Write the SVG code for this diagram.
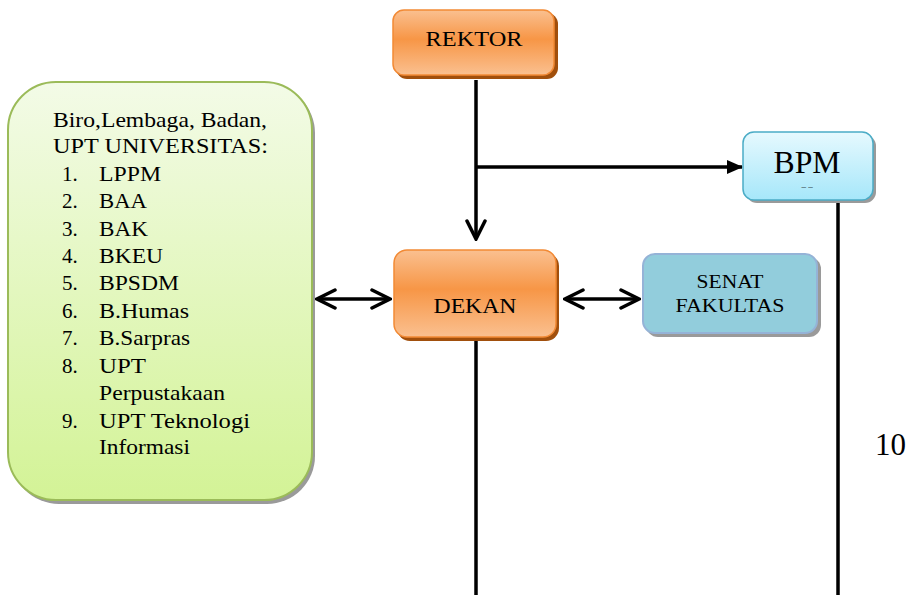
<svg xmlns="http://www.w3.org/2000/svg" width="914" height="595" viewBox="0 0 914 595">
<defs>
<linearGradient id="gOrange" x1="0" y1="0" x2="0" y2="1">
<stop offset="0" stop-color="#fac090"/>
<stop offset="0.45" stop-color="#f79646"/>
<stop offset="1" stop-color="#fac090"/>
</linearGradient>
<linearGradient id="gGreen" x1="0" y1="0" x2="0" y2="1">
<stop offset="0" stop-color="#f3fbe7"/>
<stop offset="1" stop-color="#d3f396"/>
</linearGradient>
<linearGradient id="gBlue" x1="0" y1="0" x2="0" y2="1">
<stop offset="0" stop-color="#e6f9fe"/>
<stop offset="1" stop-color="#a6e7fa"/>
</linearGradient>
<marker id="openBig" viewBox="0 0 22 22" refX="20" refY="11" markerWidth="22" markerHeight="22" markerUnits="userSpaceOnUse" orient="auto-start-reverse">
<path d="M2,2 L20,11 L2,20" fill="none" stroke="#000" stroke-width="3.5" stroke-linecap="round"/>
</marker>
<marker id="filled" viewBox="0 0 16 14" refX="15" refY="7" markerWidth="16" markerHeight="14" markerUnits="userSpaceOnUse" orient="auto">
<path d="M0,0 L16,7 L0,14 Z" fill="#000"/>
</marker>
</defs>
<style>
text{font-family:"Liberation Serif","Times New Roman",serif;fill:#000}
.orange{fill:url(#gOrange);stroke:#f28a35;stroke-width:1.5}
.oshadow{fill:#a14f0c}
.gshadow{fill:#9a9a9a}
.conn{stroke:#000;stroke-width:3.5;fill:none}
</style>
<g id="connectors">
<line class="conn" x1="476" y1="80" x2="476" y2="239" marker-end="url(#openBig)"/>
<line class="conn" x1="476" y1="167" x2="742" y2="167" marker-end="url(#filled)"/>
<line class="conn" x1="317" y1="299" x2="390" y2="299" marker-start="url(#openBig)" marker-end="url(#openBig)"/>
<line class="conn" x1="565" y1="299" x2="639" y2="299" marker-start="url(#openBig)" marker-end="url(#openBig)"/>
<line class="conn" x1="476" y1="340" x2="476" y2="595"/>
<line class="conn" x1="838" y1="200" x2="838" y2="595"/>
</g>
<g id="rektor">
<rect class="oshadow" x="396" y="13" width="162" height="66" rx="11"/>
<rect class="orange" x="393" y="10" width="161" height="65" rx="11"/>
<text x="474" y="46" font-size="21" text-anchor="middle" textLength="97" lengthAdjust="spacingAndGlyphs">REKTOR</text>
</g>
<g id="bpm">
<rect class="gshadow" x="746" y="135" width="130" height="68" rx="11"/>
<rect x="743" y="132" width="130" height="68" rx="11" fill="url(#gBlue)" stroke="#4bacc6" stroke-width="1.5"/>
<text x="807" y="173" font-size="31" text-anchor="middle" textLength="67" lengthAdjust="spacingAndGlyphs">BPM</text>
<text x="807" y="189" font-size="9" text-anchor="middle">– –</text>
</g>
<g id="dekan">
<rect class="oshadow" x="397" y="253" width="162" height="88" rx="13"/>
<rect class="orange" x="394" y="250" width="162" height="87" rx="13"/>
<text x="475" y="313" font-size="21" text-anchor="middle" textLength="83" lengthAdjust="spacingAndGlyphs">DEKAN</text>
</g>
<g id="senat">
<rect class="gshadow" x="646" y="257" width="175" height="80" rx="12"/>
<rect x="643" y="254" width="174" height="79" rx="12" fill="#92cddc" stroke="#95b3d7" stroke-width="2"/>
<text x="730" y="288" font-size="19" text-anchor="middle" textLength="67" lengthAdjust="spacingAndGlyphs">SENAT</text>
<text x="730" y="312" font-size="19" text-anchor="middle" textLength="109" lengthAdjust="spacingAndGlyphs">FAKULTAS</text>
</g>
<g id="biro" font-size="21">
<rect class="gshadow" x="11" y="85" width="304" height="419" rx="48"/>
<rect x="8" y="82" width="304" height="418" rx="48" fill="url(#gGreen)" stroke="#9bbb59" stroke-width="2"/>
<text x="53" y="127" textLength="214" lengthAdjust="spacingAndGlyphs">Biro,Lembaga, Badan,</text>
<text x="53" y="153" textLength="215" lengthAdjust="spacingAndGlyphs">UPT UNIVERSITAS:</text>
<text x="62" y="181">1.</text><text x="99" y="181" textLength="62" lengthAdjust="spacingAndGlyphs">LPPM</text>
<text x="62" y="208">2.</text><text x="99" y="208" textLength="48" lengthAdjust="spacingAndGlyphs">BAA</text>
<text x="62" y="236">3.</text><text x="99" y="236" textLength="49" lengthAdjust="spacingAndGlyphs">BAK</text>
<text x="62" y="263">4.</text><text x="99" y="263" textLength="64" lengthAdjust="spacingAndGlyphs">BKEU</text>
<text x="62" y="290">5.</text><text x="99" y="290" textLength="80" lengthAdjust="spacingAndGlyphs">BPSDM</text>
<text x="62" y="318">6.</text><text x="99" y="318" textLength="90" lengthAdjust="spacingAndGlyphs">B.Humas</text>
<text x="62" y="345">7.</text><text x="99" y="345" textLength="91" lengthAdjust="spacingAndGlyphs">B.Sarpras</text>
<text x="62" y="373">8.</text><text x="99" y="373" textLength="47" lengthAdjust="spacingAndGlyphs">UPT</text>
<text x="99" y="400" textLength="126" lengthAdjust="spacingAndGlyphs">Perpustakaan</text>
<text x="62" y="428">9.</text><text x="99" y="428" textLength="151" lengthAdjust="spacingAndGlyphs">UPT Teknologi</text>
<text x="99" y="454" textLength="91" lengthAdjust="spacingAndGlyphs">Informasi</text>
</g>
<text x="875" y="455" font-size="31">10</text>
</svg>
